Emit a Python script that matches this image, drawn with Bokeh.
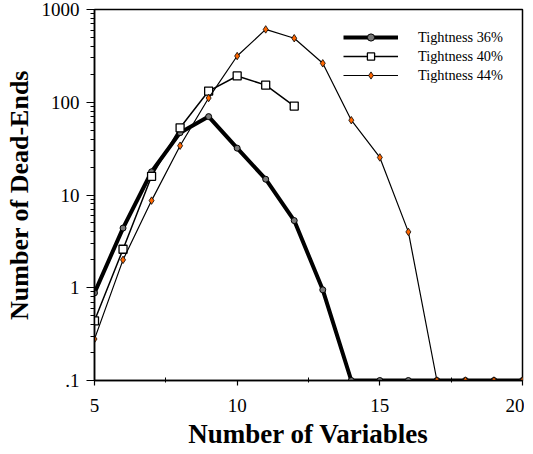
from bokeh.plotting import figure
from bokeh.models import (Range1d, FixedTicker, LogTicker, CustomJSTickFormatter,
                          Legend, LegendItem)
from bokeh.embed import file_html
from bokeh.resources import INLINE

# ---- data ----
x36 = [5, 6, 7, 8, 9, 10, 11, 12, 13, 14, 15, 16, 17, 18, 19, 20]
y36 = [0.88, 4.4, 17.8, 47, 70, 32, 14.8, 5.3, 0.95, 0.1, 0.1, 0.1, 0.1, 0.1, 0.1, 0.1]
x40 = [5, 6, 7, 8, 9, 10, 11, 12]
y40 = [0.44, 2.6, 15.9, 53, 132, 192, 153, 91]
x44 = [5, 6, 7, 8, 9, 10, 11, 12, 13, 14, 15, 16, 17, 18, 19, 20]
y44 = [0.28, 2.0, 8.7, 34, 111, 315, 610, 490, 263, 64, 25.4, 4.0, 0.1, 0.1, 0.1, 0.1]
labels = ["Tightness 36%", "Tightness 40%", "Tightness 44%"]
x_major = [5, 10, 15, 20]
x_minor = [7.5, 12.5, 17.5]

FONT = "Liberation Serif"

p = figure(width=524, height=452, output_backend="svg", toolbar_location=None,
           y_axis_type="log", x_range=Range1d(5, 20), y_range=Range1d(0.1, 1000),
           min_border_left=94, min_border_right=2, min_border_top=9, min_border_bottom=72)
p.background_fill_color = "white"
p.border_fill_color = "white"
p.grid.visible = False
p.outline_line_color = "black"
p.outline_line_width = 1.5

l36 = p.line(x36, y36, line_color="black", line_width=4)
s36 = p.scatter(x36, y36, marker="circle", size=6, line_color="black",
                fill_color="#777777", line_width=1)
l40 = p.line(x40, y40, line_color="black", line_width=1.5)
s40 = p.scatter(x40, y40, marker="square", size=8, line_color="black",
                fill_color="white", line_width=1.3)
l44 = p.line(x44, y44, line_color="black", line_width=1.2)
s44 = p.scatter(x44, y44, marker="diamond", size=7.5, line_color="black",
                fill_color="#FF6600", line_width=0.8)

legend = Legend(items=[LegendItem(label=labels[0], renderers=[l36, s36]),
                       LegendItem(label=labels[1], renderers=[l40, s40]),
                       LegendItem(label=labels[2], renderers=[l44, s44])],
                location=(249, 296))
legend.border_line_color = None
legend.background_fill_alpha = 0
legend.padding = 0
legend.margin = 0
legend.spacing = 1
legend.glyph_width = 55
legend.glyph_height = 18
legend.label_height = 18
legend.label_standoff = 20
legend.label_text_font = FONT
legend.label_text_font_size = "14.3px"
legend.label_text_color = "black"
p.add_layout(legend)

xa = p.xaxis[0]
xa.ticker = FixedTicker(ticks=x_major, minor_ticks=x_minor)
xa.axis_label = "Number of Variables"
ya = p.yaxis[0]
ya.ticker = LogTicker(num_minor_ticks=10)
ya.formatter = CustomJSTickFormatter(code="""
  if (tick >= 1) { return String(Math.round(tick)); }
  return String(tick).replace(/^0/, '');
""")
ya.axis_label = "Number of Dead-Ends"

for ax in (xa, ya):
    ax.axis_line_color = "black"
    ax.axis_line_width = 1.5
    ax.major_tick_line_color = "black"
    ax.minor_tick_line_color = "black"
    ax.major_tick_line_width = 1.2
    ax.major_label_text_font = FONT
    ax.major_label_text_font_size = "19px"
    ax.major_label_text_color = "black"
    ax.axis_label_text_font = FONT
    ax.axis_label_text_font_style = "bold"
    ax.axis_label_text_color = "black"

xa.axis_label_text_font_size = "27px"
ya.axis_label_text_font_size = "26px"

xa.major_tick_out = 5
xa.major_tick_in = 0
xa.minor_tick_out = 2
xa.minor_tick_in = 3
xa.major_label_standoff = 13
xa.axis_label_standoff = 4

ya.major_tick_out = 8
ya.major_tick_in = 0
ya.minor_tick_out = 4
ya.minor_tick_in = 0
ya.major_label_standoff = 7
ya.axis_label_standoff = 5

open("out.html", "w").write(file_html(p, INLINE))
